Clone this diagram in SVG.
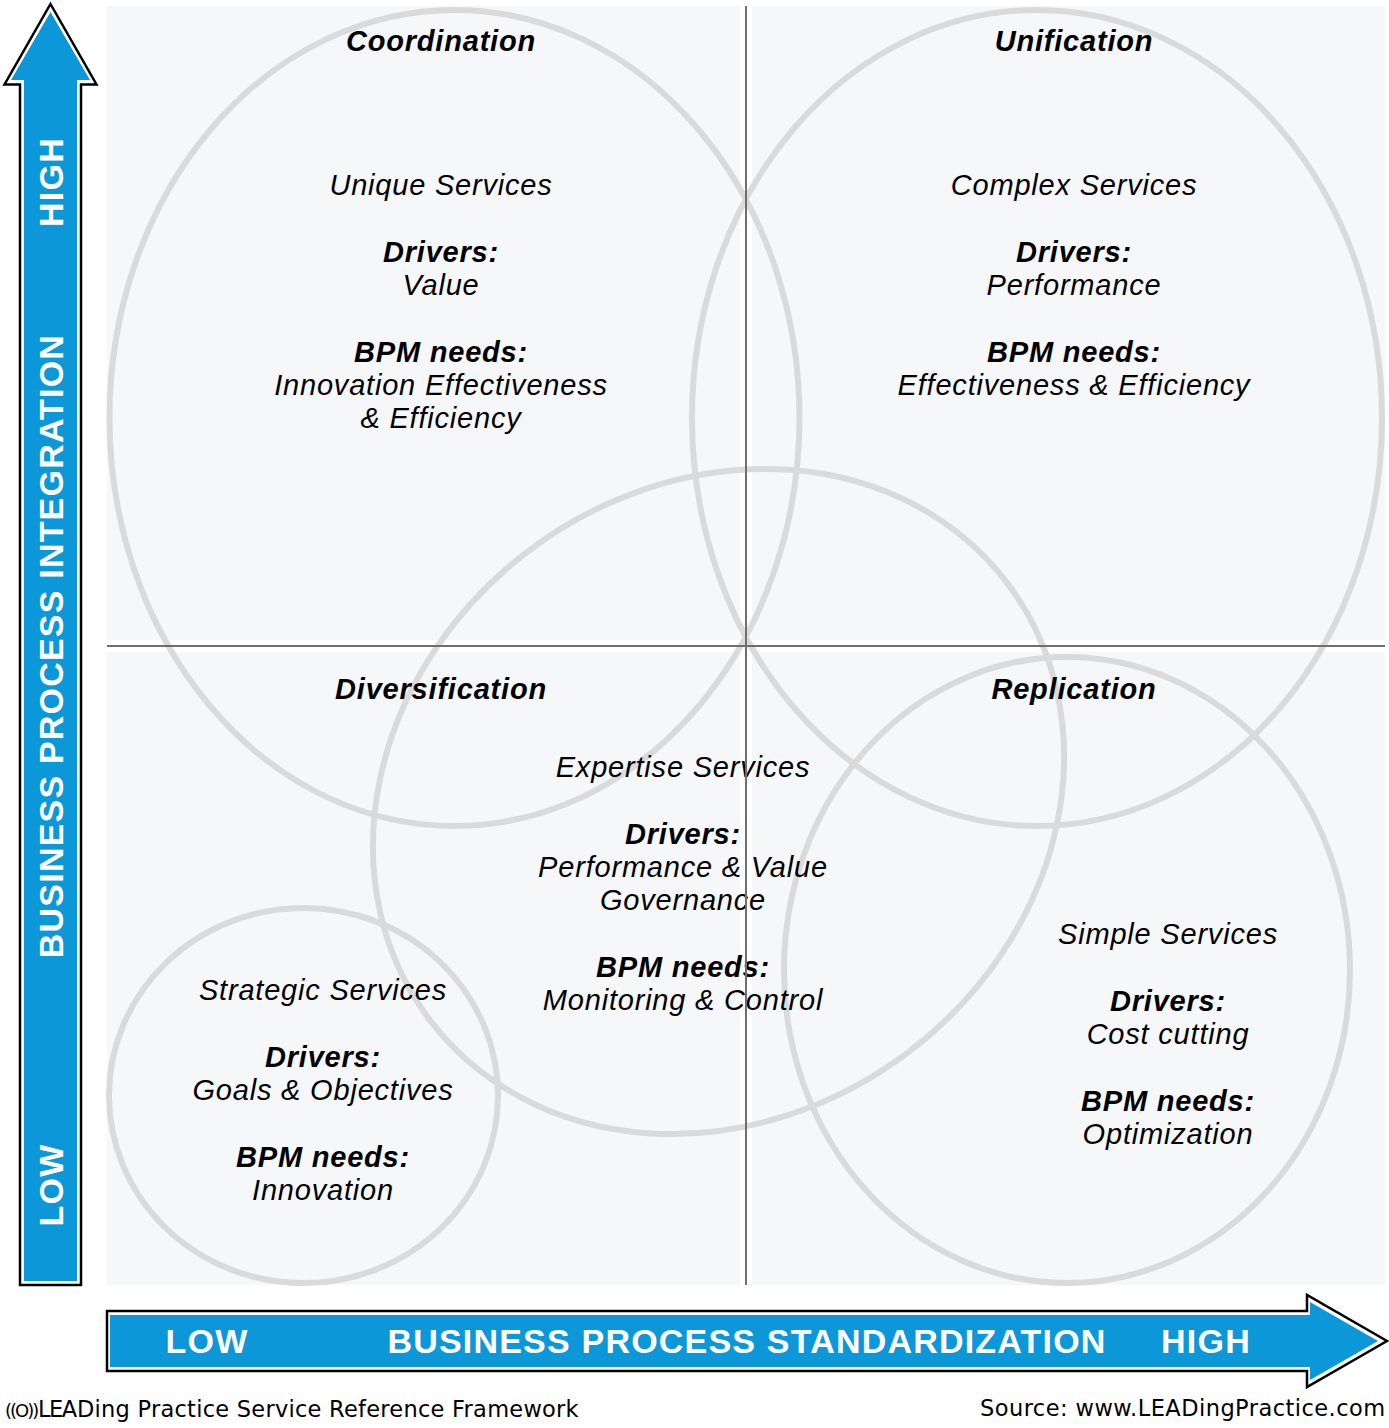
<svg xmlns="http://www.w3.org/2000/svg" width="1389" height="1428" viewBox="0 0 1389 1428">
<style>
.panel{fill:#f6f7f9}
.ring{fill:none;stroke:#dadada;stroke-width:6}
.axis{stroke:#6e6e6e;stroke-width:2;fill:none}
.arrow-o{fill:#fff;stroke:#000;stroke-width:2.5}
.arrow-i{fill:#0c98d8}
text{font-family:"Liberation Sans",Arial,sans-serif;text-anchor:middle;fill:#000;letter-spacing:.8px}
.t{font-size:29px;font-style:italic}
.b{font-size:29px;font-style:italic;font-weight:bold}
.a{font-size:34px;font-weight:bold;fill:#fff;letter-spacing:1.2px}
.f{font-family:"DejaVu Sans",sans-serif;font-size:22.5px;letter-spacing:.25px;text-anchor:start}
</style>
<g id="panels">
<rect class="panel" x="107" y="6" width="633" height="634"/>
<rect class="panel" x="752" y="6" width="633" height="634"/>
<rect class="panel" x="107" y="652" width="633" height="633"/>
<rect class="panel" x="752" y="652" width="633" height="633"/>
</g>
<g id="axis-y">
<path class="arrow-o" d="M50.500 4L96.500 84.500H81V1285H20V84.500H4.500Z"/>
<path class="arrow-i" d="M50.500 12L90 80H77V1281H24V80H11Z"/>
<text class="a" transform="translate(63 182) rotate(-90)">HIGH</text>
<text class="a" transform="translate(63 646) rotate(-90)">BUSINESS PROCESS INTEGRATION</text>
<text class="a" transform="translate(63 1185) rotate(-90)">LOW</text>
</g>
<g id="axis-x">
<path class="arrow-o" d="M107 1311H1307V1295L1387 1341L1307 1387V1371H107Z"/>
<path class="arrow-i" d="M110 1315H1310V1302L1378 1341L1310 1380V1367H110Z"/>
<text class="a" x="207" y="1353">LOW</text>
<text class="a" x="747" y="1353">BUSINESS PROCESS STANDARDIZATION</text>
<text class="a" x="1206" y="1353">HIGH</text>
</g>
<g id="simple">
<ellipse class="ring" cx="1067" cy="970" rx="283" ry="313"/>
<text class="t" x="1168" y="944">Simple Services</text>
<text class="b" x="1168" y="1011">Drivers:</text>
<text class="t" x="1168" y="1044">Cost cutting</text>
<text class="b" x="1168" y="1111">BPM needs:</text>
<text class="t" x="1168" y="1144">Optimization</text>
</g>
<g id="coordination">
<ellipse class="ring" cx="454.500" cy="418" rx="345" ry="408"/>
<text class="b" x="441" y="51">Coordination</text>
<text class="t" x="441" y="195">Unique Services</text>
<text class="b" x="441" y="262">Drivers:</text>
<text class="t" x="441" y="295">Value</text>
<text class="b" x="441" y="362">BPM needs:</text>
<text class="t" x="441" y="395">Innovation Effectiveness</text>
<text class="t" x="441" y="428">&amp; Efficiency</text>
</g>
<g id="unification">
<ellipse class="ring" cx="1037" cy="418" rx="345" ry="408"/>
<text class="b" x="1074" y="51">Unification</text>
<text class="t" x="1074" y="195">Complex Services</text>
<text class="b" x="1074" y="262">Drivers:</text>
<text class="t" x="1074" y="295">Performance</text>
<text class="b" x="1074" y="362">BPM needs:</text>
<text class="t" x="1074" y="395">Effectiveness &amp; Efficiency</text>
</g>
<g id="expertise">
<ellipse class="ring" cx="718.500" cy="801.500" rx="362" ry="314.500" transform="rotate(-37 718.500 801.500)"/>
<text class="t" x="683" y="777">Expertise Services</text>
<text class="b" x="683" y="844">Drivers:</text>
<text class="t" x="683" y="877">Performance &amp; Value</text>
<text class="t" x="683" y="910">Governance</text>
<text class="b" x="683" y="977">BPM needs:</text>
<text class="t" x="683" y="1010">Monitoring &amp; Control</text>
</g>
<g id="diversification">
<text class="b" x="441" y="699">Diversification</text>
</g>
<g id="replication">
<text class="b" x="1074" y="699">Replication</text>
</g>
<g id="strategic">
<ellipse class="ring" cx="303.500" cy="1095.500" rx="194.500" ry="187.500"/>
<text class="t" x="323" y="1000">Strategic Services</text>
<text class="b" x="323" y="1067">Drivers:</text>
<text class="t" x="323" y="1100">Goals &amp; Objectives</text>
<text class="b" x="323" y="1167">BPM needs:</text>
<text class="t" x="323" y="1200">Innovation</text>
</g>
<g id="connectors">
<path class="axis" d="M746 6V1285M107 646H1385"/>
</g>
<g id="footer">
<text class="f" y="1417"><tspan x="5" font-size="18" letter-spacing="-2">((O))</tspan><tspan x="38" letter-spacing="-1.500">LEA</tspan><tspan x="77">Ding Practice Service Reference Framework</tspan></text>
<text class="f" x="980" y="1416" style="letter-spacing:.45px">Source: www.LEADingPractice.com</text>
</g>
</svg>
